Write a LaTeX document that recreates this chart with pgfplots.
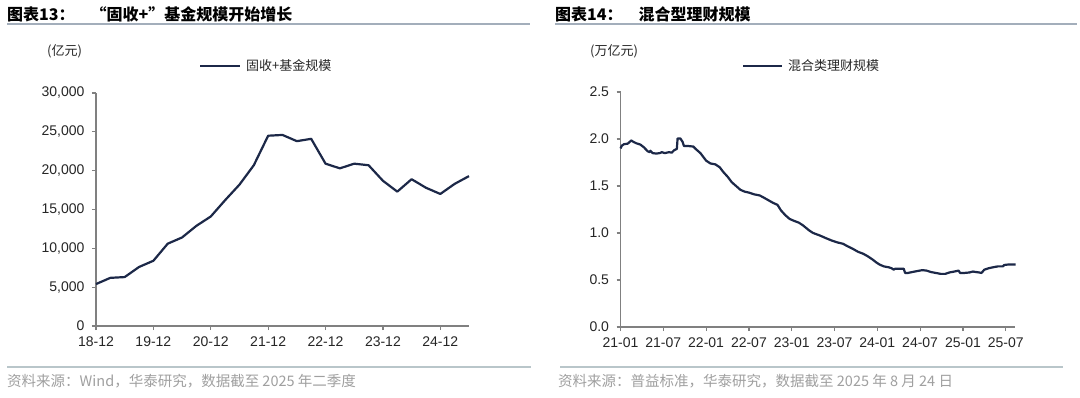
\documentclass[border=0pt]{standalone}
\usepackage{fontspec}
\setmainfont{Liberation Sans}
\newfontfamily\cjk{Noto Sans CJK SC}
\newfontfamily\lsans{Liberation Sans}
\usepackage{pgfplots}
\pgfplotsset{compat=1.18}
\definecolor{navy}{HTML}{1C2848}
\definecolor{axisgray}{HTML}{808080}
\definecolor{titleline}{HTML}{A3AEBB}
\definecolor{srcline}{HTML}{B9C6CA}
\definecolor{srctext}{HTML}{A0A0A0}
\definecolor{ticktext}{HTML}{262626}

\pgfplotstableread{
x y
0 5400
1 6200
2 6300
3 7600
4 8400
5 10600
6 11400
7 12900
8 14100
9 16200
10 18200
11 20700
12 24500
13 24600
14 23800
15 24100
16 20900
17 20300
18 20900
19 20700
20 18700
21 17300
22 18900
23 17800
24 17000
25 18300
26 19300
}\fundtable

\pgfplotstableread{
x y
0.0 1.90
0.2 1.93
0.5 1.945
1.0 1.95
1.3 1.97
1.5 1.985
1.8 1.97
2.2 1.955
2.8 1.94
3.3 1.91
3.8 1.87
4.1 1.86
4.2 1.875
4.5 1.85
5.0 1.845
5.5 1.85
5.8 1.86
6.2 1.85
6.8 1.86
7.2 1.855
7.5 1.88
7.9 1.895
8.0 2.005
8.4 2.005
8.7 1.97
8.9 1.925
9.5 1.925
10.2 1.92
10.6 1.89
11.2 1.85
12.0 1.77
12.6 1.74
13.3 1.73
13.9 1.70
14.4 1.65
15.0 1.60
15.6 1.54
16.2 1.50
16.8 1.46
17.4 1.44
18.0 1.43
18.8 1.41
19.5 1.40
20.0 1.38
20.7 1.35
21.4 1.32
22.0 1.30
22.5 1.24
23.1 1.19
23.7 1.15
24.3 1.13
25.0 1.11
25.6 1.08
26.4 1.03
27.0 1.00
27.9 0.975
28.8 0.945
29.6 0.92
30.4 0.90
31.2 0.885
31.8 0.86
32.6 0.83
33.3 0.80
34.0 0.78
34.6 0.755
35.3 0.72
35.8 0.69
36.3 0.665
36.9 0.645
37.6 0.635
38.0 0.625
38.3 0.61
38.5 0.62
39.7 0.62
39.9 0.575
40.3 0.575
40.9 0.585
41.6 0.595
42.3 0.605
42.9 0.60
43.5 0.585
44.2 0.575
44.9 0.565
45.5 0.565
46.1 0.58
46.8 0.59
47.4 0.60
47.6 0.575
48.2 0.575
48.9 0.58
49.4 0.59
49.8 0.585
50.3 0.58
50.6 0.575
51.0 0.61
51.6 0.625
52.2 0.635
52.9 0.645
53.6 0.645
53.8 0.66
54.4 0.665
55.4 0.665
}\wmptable

\pgfplotsset{
  mystyle/.style={
    scale only axis,
    axis x line=bottom, axis y line=left,
    axis line style={-, draw=axisgray, line width=1.2pt},
    tick style={draw=axisgray, line width=1.2pt},
    tick align=outside,
    major tick length=4pt,
    xtick pos=bottom, ytick pos=left,
    /pgf/number format/assume math mode=true,
    ticklabel style={font=\lsans\fontsize{14}{14}\selectfont, text=ticktext},
    xticklabel style={yshift=-3pt},
    yticklabel style={xshift=-4pt},
    clip=false,
  }
}

\begin{document}
\begin{tikzpicture}
\useasboundingbox (0pt,0pt) rectangle (1080pt,397pt);
\fill[white] (0pt,0pt) rectangle (1080pt,397pt);

% titles
\node[anchor=west, inner sep=0pt, text=black] at (7pt,383pt) {\cjk\bfseries\fontsize{16}{16}\selectfont 图表13：\hspace{1em}“固收+”基金规模开始增长};
\node[anchor=west, inner sep=0pt, text=black] at (555pt,383pt) {\cjk\bfseries\fontsize{16}{16}\selectfont 图表14：\hspace{1em}混合型理财规模};
\draw[titleline, line width=1.8pt] (7pt,373pt) -- (530pt,373pt);
\draw[titleline, line width=1.8pt] (555pt,373pt) -- (1077pt,373pt);

% source lines
\draw[srcline, line width=2pt] (7pt,30pt) -- (531pt,30pt);
\draw[srcline, line width=2pt] (560pt,30pt) -- (1063pt,30pt);
\node[anchor=west, inner sep=0pt, text=srctext] at (7pt,16pt) {\cjk\fontsize{14.5}{14.5}\selectfont 资料来源：Wind，华泰研究，数据截至 2025 年二季度};
\node[anchor=west, inner sep=0pt, text=srctext] at (558pt,16pt) {\cjk\fontsize{14.5}{14.5}\selectfont 资料来源：普益标准，华泰研究，数据截至 2025 年 8 月 24 日};

% units and legends
\node[anchor=west, inner sep=0pt, text=ticktext] at (47pt,346pt) {\cjk\fontsize{13}{13}\selectfont (亿元)};
\draw[navy, line width=2.2pt] (200pt,331pt) -- (240pt,331pt);
\node[anchor=west, inner sep=0pt, text=ticktext] at (246pt,331pt) {\cjk\fontsize{13}{13}\selectfont 固收+基金规模};
\node[anchor=west, inner sep=0pt, text=ticktext] at (590pt,346pt) {\cjk\fontsize{13}{13}\selectfont (万亿元)};
\draw[navy, line width=2.2pt] (743pt,331pt) -- (782pt,331pt);
\node[anchor=west, inner sep=0pt, text=ticktext] at (788pt,331pt) {\cjk\fontsize{13}{13}\selectfont 混合类理财规模};

\begin{axis}[mystyle,
  at={(96pt,71pt)}, anchor=south west,
  width=373pt, height=233pt,
  xmin=0, xmax=26, ymin=0, ymax=30000,
  xtick={0,4,8,12,16,20,24},
  xticklabels={18-12,19-12,20-12,21-12,22-12,23-12,24-12},
  ytick={0,5000,10000,15000,20000,25000,30000},
  scaled y ticks=false,
  yticklabel style={/pgf/number format/.cd, fixed, 1000 sep={,}},
]
\addplot[navy, line width=2.2pt, line join=round] table[x=x,y=y] {\fundtable};
\end{axis}

\begin{axis}[mystyle,
  at={(620.5pt,70pt)}, anchor=south west,
  width=394.5pt, height=235pt,
  xmin=0, xmax=55.3, ymin=0, ymax=2.5,
  xtick={0,6,12,18,24,30,36,42,48,54},
  xticklabels={21-01,21-07,22-01,22-07,23-01,23-07,24-01,24-07,25-01,25-07},
  ytick={0,0.5,1,1.5,2,2.5},
  yticklabel style={/pgf/number format/.cd, fixed, fixed zerofill, precision=1},
]
\addplot[navy, line width=2.2pt, line join=round] table[x=x,y=y] {\wmptable};
\end{axis}
\end{tikzpicture}
\end{document}
